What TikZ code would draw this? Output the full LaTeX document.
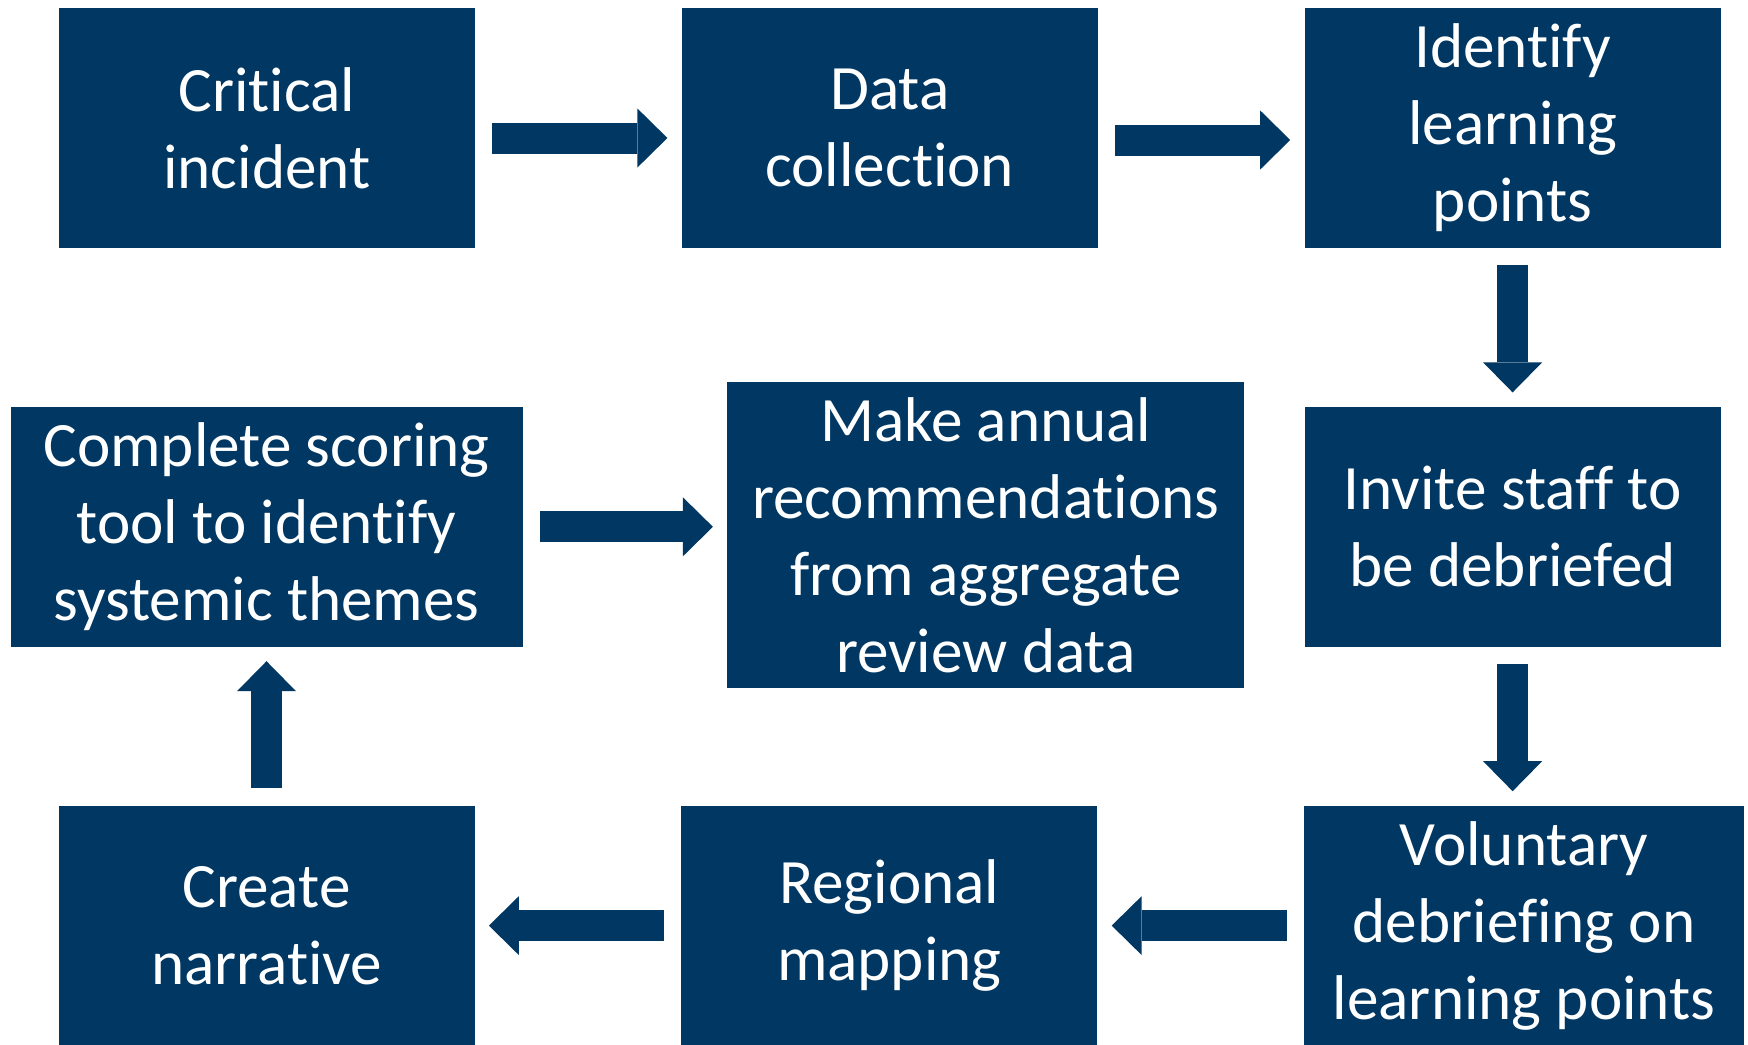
\documentclass[tikz,border=0pt]{standalone}
\usepackage{fontspec}
\setmainfont{Carlito}[Ligatures=NoCommon]
\usetikzlibrary{positioning, arrows.meta}
\definecolor{navy}{RGB}{0,55,99}

\begin{document}
\begin{tikzpicture}[
        x=0.5pt, y=-0.5pt,
        node distance=79pt and 103pt,
        stage/.style={rectangle, fill=navy, text=white, align=center, inner sep=0pt, minimum width=208pt, minimum height=120pt, font=\fontsize{31.6}{38.5}\selectfont},
        flow/.style={draw=navy, line width=15.5pt, -{Triangle[length=15pt, width=29.5pt, line width=0pt]}, shorten <=8.5pt, shorten >=7pt}
    ]
    \clip (0,0) rectangle (1748,1044);

    % Top row
    \node[stage] (crit) at (267,128) {Critical\\incident};
    \node[stage] (data) [right=of crit] {Data\\collection};
    \node[stage] (ident) [right=of data] {Identify\\learning\\points};

    % Right column
    \node[stage] (invite) [below=of ident] {Invite staff to\\be debriefed};
    \node[stage, minimum width=220pt] (volun) [below=of invite, xshift=5.75pt] {Voluntary\\debriefing on\\learning points};

    % Bottom row
    \node[stage] (region) [left=of volun] {Regional\\mapping};
    \node[stage] (narr) [left=of region] {Create\\narrative};

    % Middle row
    \node[stage, minimum width=256pt] (score) [above=of narr] {Complete scoring\\tool to identify\\systemic themes};
    \node[stage, minimum width=258.5pt, minimum height=153pt] (recom) [right=102pt of score, yshift=-4pt] {Make annual\\recommendations\\from aggregate\\review data};

    % Flow along the top
    \draw[flow] ([yshift=-5pt]crit.east) -- ([yshift=-5pt]data.west);
    \draw[flow] ([yshift=-6pt]data.east) -- ([yshift=-6pt]ident.west);

    % Down the right side
    \draw[flow] (ident) -- (invite);
    \draw[flow] (invite.south) -- (invite.south |- volun.north);

    % Back along the bottom
    \draw[flow] (volun) -- (region);
    \draw[flow] (region) -- (narr);

    % Up and across to the recommendations
    \draw[flow] (narr) -- (score);
    \draw[flow] (score.east) -- (score.east -| recom.west);

\end{tikzpicture}
\end{document}
